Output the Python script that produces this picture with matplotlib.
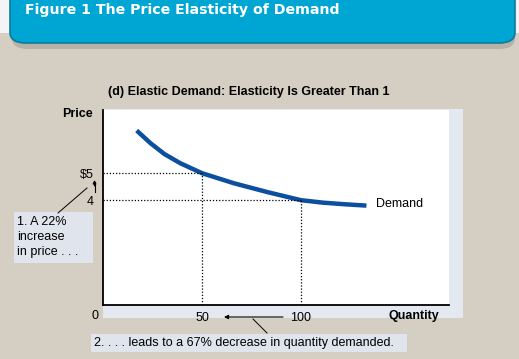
import matplotlib.pyplot as plt
from matplotlib.patches import Rectangle, FancyBboxPatch

# demand curve
quantity = [17, 24, 31, 39, 50, 66, 83, 100, 111, 122, 133]
price = [6.58, 6.11, 5.71, 5.37, 5.0, 4.63, 4.30, 4.0, 3.91, 3.85, 3.80]

# the two marked points
q_marks = [50, 100]
p_marks = [5, 4]
x_tick_labels = ["50", "100"]
y_tick_labels = ["4", r"\$5"]

W, H = 519, 359
plt.rcParams["font.family"] = ["Liberation Sans", "DejaVu Sans"]

fig = plt.figure(figsize=(W / 100, H / 100), dpi=100)
fig.patch.set_facecolor("#d5cec3")


def fx(px):
    return px / W


def fy(py):
    return 1 - py / H


# header banner
fig.patches.append(Rectangle((0, fy(33)), 1, 1 - fy(33), transform=fig.transFigure,
                             facecolor="#f4f4f4", edgecolor="none", zorder=0))
fig.patches.append(FancyBboxPatch((fx(12), fy(49)), fx(503), fy(0) - fy(49) + 0.05,
                                  boxstyle="round,pad=0,rounding_size=0.03",
                                  transform=fig.transFigure, facecolor="#9a958c",
                                  edgecolor="none", alpha=0.5, zorder=1))
fig.patches.append(FancyBboxPatch((fx(10), fy(43)), fx(505), fy(0) - fy(43) + 0.05,
                                  boxstyle="round,pad=0,rounding_size=0.03",
                                  transform=fig.transFigure, facecolor="#00a6d3",
                                  edgecolor="#0a7b9c", linewidth=1.2, zorder=2))
fig.text(fx(25), fy(10), "Figure 1 The Price Elasticity of Demand", color="white",
         fontsize=10.2, fontweight="bold", family="DejaVu Sans", va="center", zorder=3)

# light panel behind the plot
fig.patches.append(Rectangle((fx(103), fy(318)), fx(360), fy(109) - fy(318),
                             transform=fig.transFigure, facecolor="#e4e8f0",
                             edgecolor="none", zorder=1))

ax = fig.add_axes([fx(103), fy(305), fx(346), fy(110) - fy(305)])
ax.set_facecolor("white")
ax.set_zorder(2)
ax.set_xlim(0, 174.7)
ax.set_ylim(0.12, 7.34)

ax.plot(quantity, price, color="#0b4f9e", linewidth=3.2, solid_capstyle="butt",
        solid_joinstyle="round")

for q, p in zip(q_marks, p_marks):
    ax.plot([0, q], [p, p], color="black", linestyle=(0, (1, 1.5)), linewidth=0.9)
    ax.plot([q, q], [0, p], color="black", linestyle=(0, (1, 1.5)), linewidth=0.9)

ax.text(quantity[-1] + 5, price[-1] + 0.05, "Demand", fontsize=9, va="center")

ax.set_xticks(q_marks)
ax.set_xticklabels(x_tick_labels, fontsize=9)
ax.set_yticks(sorted(p_marks))
ax.set_yticklabels(y_tick_labels, fontsize=9)
ax.tick_params(length=0)
ax.tick_params(axis="x", pad=5)
ax.tick_params(axis="y", pad=7)
for s in ["top", "right"]:
    ax.spines[s].set_visible(False)
for s in ["left", "bottom"]:
    ax.spines[s].set_linewidth(1.3)

fig.text(fx(108), fy(92), "(d) Elastic Demand: Elasticity Is Greater Than 1",
         fontsize=9, fontweight="bold", va="center")
fig.text(fx(62), fy(114), "Price", fontsize=9, fontweight="bold", va="center")
fig.text(fx(92), fy(316), "0", fontsize=9, va="center")
fig.text(fx(439), fy(316), "Quantity", fontsize=9, fontweight="bold", va="center", ha="right")

# annotation 1
fig.patches.append(Rectangle((fx(14), fy(263)), fx(79), fy(212) - fy(263),
                             transform=fig.transFigure, facecolor="#e0e4ec",
                             edgecolor="none", zorder=1))
fig.text(fx(17), fy(237), "1. A 22%\nincrease\nin price . . .", fontsize=9,
         va="center", linespacing=1.3)
fig.add_artist(plt.Line2D([fx(58), fx(87)], [fy(213), fy(188)], color="black",
                          linewidth=0.7))
fig.add_artist(plt.Line2D([fx(94.5), fx(94.5)], [fy(192), fy(182)], color="black",
                          linewidth=0.8))
ax.annotate("", xy=(fx(94.5), fy(180)), xytext=(fx(94.5), fy(186)),
            xycoords="figure fraction", textcoords="figure fraction",
            arrowprops=dict(arrowstyle="-|>", color="black", lw=0.8,
                            mutation_scale=5, shrinkA=0, shrinkB=0))

# annotation 2
fig.patches.append(Rectangle((fx(91), fy(352)), fx(316), fy(334) - fy(352),
                             transform=fig.transFigure, facecolor="#e0e4ec",
                             edgecolor="none", zorder=1))
fig.text(fx(94), fy(343), "2. . . . leads to a 67% decrease in quantity demanded.",
         fontsize=9, va="center")
ax.annotate("", xy=(fx(224), fy(317)), xytext=(fx(283), fy(317)),
            xycoords="figure fraction", textcoords="figure fraction",
            arrowprops=dict(arrowstyle="-|>", color="black", lw=0.8,
                            mutation_scale=6, shrinkA=0, shrinkB=0),
            annotation_clip=False)
fig.add_artist(plt.Line2D([fx(253), fx(267)], [fy(319), fy(333)], color="black",
                          linewidth=0.7))

fig.savefig("out.png", dpi=100, facecolor=fig.get_facecolor())
